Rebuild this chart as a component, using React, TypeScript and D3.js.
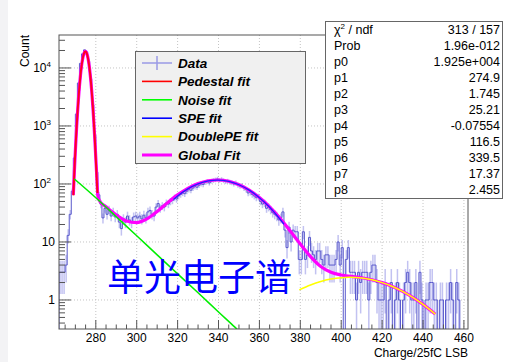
import React, { useRef, useEffect } from 'react';
import * as d3 from 'd3';

// histogram, 1 LSB bins starting at 262
const binLow = 262;
const counts = [
  3, 3, 3, 4, 13, 30, 75, 280,
  1600, 5500, 12000, 17500, 20500, 19000, 13000, 6500, 2300, 700,
  160, 65, 45, 26, 38, 30, 36, 28, 33, 27,
  30, 22, 17, 25, 22, 28, 24, 22, 27, 28,
  26, 28, 25, 29, 26, 33, 35, 30, 28, 40,
  46, 38, 42, 40, 47, 45, 50, 52, 58, 55,
  62, 66, 70, 68, 75, 80, 78, 85, 90, 88,
  95, 100, 98, 106, 110, 104, 112, 115, 118, 122,
  116, 120, 114, 110, 112, 108, 105, 100, 104, 96,
  92, 94, 85, 80, 70, 72, 66, 62, 58, 60,
  50, 45, 47, 38, 40, 36, 32, 30, 28, 24,
  26, 33, 16, 8, 18, 10, 16, 15, 15, 5,
  5, 15, 5, 6, 12, 7, 6, 5, 7, 7,
  5, 4, 6, 6, 4, 4, 4, 5, 10, 4,
  8, 0, 5, 8, 3, 3, 3, 1, 3, 2,
  3, 3, 3, 1, 3, 4, 4, 2, 1, 1,
  1, 2, 0, 1, 2, 0, 1, 2, 1, 0,
  1, 2, 3, 2, 1, 1, 2, 0, 3, 1,
  0, 1, 1, 2, 2, 1, 1, 0, 1, 1,
  0, 1, 1, 2, 1, 0, 2, 1, 0,
];

// fit curves: [charge, count]
const pedestalFit: [number, number][] = [
  [269, 63.5], [269.5, 160], [270, 373], [270.5, 801], [271, 1584], [271.5, 2884],
  [272, 4840], [272.5, 7477], [273, 10640], [273.5, 13950], [274, 16850], [274.5, 18750],
  [274.9, 19250], [275.5, 18140], [276, 15780], [276.5, 12640], [277, 9333], [277.5, 6345],
  [278, 3973], [278.5, 2293], [279, 1218], [279.5, 597], [280, 269], [280.5, 112], [280.8, 70],
];
const noiseFit: [number, number][] = [
  [269.5, 122], [280, 57.9], [290, 27.2], [300, 12.8], [310, 6.0], [320, 2.82],
  [330, 1.33], [340, 0.62], [348, 0.34], [352, 0.25],
];
const speFit: [number, number][] = [
  [318, 54.2], [320, 62], [325, 82.2], [330, 100.3], [335, 112.7], [339.5, 116.5],
  [345, 110.8], [350, 97], [355, 78.2], [360, 58.1], [365, 39.7], [370, 24.9], [372, 20.2],
];
const doublePeFit: [number, number][] = [
  [379.5, 1.49], [385, 1.81], [390, 2.08], [395, 2.29], [400, 2.42], [404.1, 2.455],
  [410, 2.39], [415, 2.23], [420, 1.99], [425, 1.71], [430, 1.41], [435, 1.11],
  [440, 0.84], [446, 0.57],
];
const globalFit: [number, number][] = [
  [269, 65], [269.5, 160], [270, 373], [270.5, 801], [271, 1584], [271.5, 2884],
  [272, 4840], [272.5, 7477], [273, 10640], [273.5, 13950], [274, 16850], [274.5, 18750],
  [274.9, 19250], [275.5, 18140], [276, 15780], [276.5, 12640], [277, 9333], [277.5, 6345],
  [278, 3973], [278.5, 2293], [279, 1218], [279.5, 600], [280, 280], [280.5, 130], [281, 62],
  [282, 50], [285, 40.5], [290, 29.2], [295, 23], [300, 21.6], [305, 25], [310, 33.5],
  [315, 47.2], [320, 64.8], [325, 84.1], [330, 101.6], [335, 113.6], [339.5, 117.1],
  [345, 111.2], [350, 97.3], [355, 78.4], [360, 58.3], [365, 40.4], [370, 25.9],
  [375, 15.6], [380, 9.2], [385, 5.6], [390, 3.78], [395, 3.0], [400, 2.69], [405, 2.55],
  [410, 2.42], [415, 2.23], [420, 1.99], [425, 1.71], [430, 1.41], [435, 1.11],
  [440, 0.84], [446, 0.57],
];

const xTicks = [280, 300, 320, 340, 360, 380, 400, 420, 440, 460];
const yDecades = [1, 10, 100, 1000, 10000];
const yDecadeExp = ['', '', '2', '3', '4'];

const legendNames = ['Data', 'Pedestal fit', 'Noise fit', 'SPE fit', 'DoublePE fit', 'Global Fit'];
const legendColors = ['#9a9ae6', '#ff0000', '#00ff00', '#0000ff', '#ffff00', '#ff00ff'];

const statLabels = ['χ2 / ndf', 'Prob', 'p0', 'p1', 'p2', 'p3', 'p4', 'p5', 'p6', 'p7', 'p8'];
const statValues = ['313 / 157', '1.96e-012', '1.925e+004', '274.9', '1.745', '25.21',
  '-0.07554', '116.5', '339.5', '17.37', '2.455'];

const FONT = '"Liberation Sans", Arial, Helvetica, sans-serif';

const SpectrumChart: React.FC = () => {
  const svgRef = useRef<SVGSVGElement>(null);
  const width = 505;
  const height = 362;

  useEffect(() => {
    if (!svgRef.current) return;
    const svg = d3.select(svgRef.current);
    svg.selectAll('*').remove();

    const frame = { left: 59, right: 468, top: 35, bottom: 329 };

    const x = d3.scaleLinear().domain([262, 462]).range([frame.left, frame.right]);
    const y = d3.scaleLog().domain([0.316, 37000]).range([frame.bottom, frame.top]);

    svg.append('rect').attr('width', width).attr('height', height).attr('fill', '#fff');
    svg.append('rect').attr('width', 8).attr('height', height).attr('fill', '#f3f3f5');

    svg.append('defs').append('clipPath').attr('id', 'plotclip')
      .append('rect')
      .attr('x', frame.left).attr('y', frame.top)
      .attr('width', frame.right - frame.left).attr('height', frame.bottom - frame.top);

    // grid
    const grid = svg.append('g').attr('stroke', '#c4c4c4').attr('stroke-dasharray', '1,2');
    xTicks.forEach(t => {
      grid.append('line').attr('x1', x(t)).attr('x2', x(t))
        .attr('y1', frame.top).attr('y2', frame.bottom);
    });
    yDecades.forEach(t => {
      grid.append('line').attr('x1', frame.left).attr('x2', frame.right)
        .attr('y1', y(t)).attr('y2', y(t));
    });

    const plot = svg.append('g').attr('clip-path', 'url(#plotclip)');

    // error bars
    counts.forEach((v, i) => {
      if (v <= 0) return;
      const e = Math.sqrt(v);
      const lo = v - e > 0 ? y(v - e) : frame.bottom;
      plot.append('line')
        .attr('x1', x(binLow + i + 0.5)).attr('x2', x(binLow + i + 0.5))
        .attr('y1', lo).attr('y2', y(v + e))
        .attr('stroke', 'rgba(120,120,225,0.45)').attr('stroke-width', 1.5);
    });

    // step histogram
    let d = `M${x(binLow)},${frame.bottom}`;
    counts.forEach((v, i) => {
      const yv = v > 0 ? y(v) : frame.bottom + 2;
      d += `L${x(binLow + i)},${yv}L${x(binLow + i + 1)},${yv}`;
    });
    plot.append('path').attr('d', d).attr('fill', 'none')
      .attr('stroke', '#5a5acc').attr('stroke-width', 1);

    const line = d3.line<[number, number]>()
      .x(p => x(p[0])).y(p => y(p[1]))
      .curve(d3.curveMonotoneX);

    const drawCurve = (pts: [number, number][], color: string, w: number) => {
      plot.append('path').datum(pts).attr('d', line).attr('fill', 'none')
        .attr('stroke', color).attr('stroke-width', w).attr('stroke-linejoin', 'round');
    };

    drawCurve(globalFit, '#ff00ff', 3.2);
    drawCurve(pedestalFit, '#ff0022', 2);
    drawCurve(noiseFit, '#00ee00', 1.5);
    drawCurve(speFit, '#2020ff', 1.3);
    drawCurve(doublePeFit, '#ffff00', 1.5);

    // frame
    svg.append('rect')
      .attr('x', frame.left).attr('y', frame.top)
      .attr('width', frame.right - frame.left).attr('height', frame.bottom - frame.top)
      .attr('fill', 'none').attr('stroke', '#555').attr('stroke-width', 1);

    // x ticks (inside)
    const ticks = svg.append('g').attr('stroke', '#555').attr('stroke-width', 1);
    for (let t = 265; t <= 460; t += 5) {
      const major = t % 20 === 0;
      ticks.append('line').attr('x1', x(t)).attr('x2', x(t))
        .attr('y1', frame.bottom).attr('y2', frame.bottom - (major ? 9 : 4.5));
    }
    // y ticks (inside)
    [0.1, 1, 10, 100, 1000, 10000].forEach(dec => {
      for (let k = 1; k <= 9; k++) {
        const v = dec * k;
        if (v < 0.316 || v > 37000) continue;
        ticks.append('line').attr('x1', frame.left).attr('x2', frame.left + (k === 1 ? 12 : 6))
          .attr('y1', y(v)).attr('y2', y(v));
      }
    });

    const txt = svg.append('g').attr('font-family', FONT).attr('fill', '#000');

    xTicks.forEach(t => {
      txt.append('text').attr('x', x(t)).attr('y', 342)
        .attr('text-anchor', 'middle').attr('font-size', 12).text(t);
    });
    yDecades.forEach((t, i) => {
      const el = txt.append('text').attr('y', y(t) + 4.5).attr('font-size', 12);
      if (yDecadeExp[i]) {
        el.attr('x', 51).attr('text-anchor', 'end');
        el.append('tspan').text('10');
        el.append('tspan').attr('font-size', 8).attr('dy', -5).text(yDecadeExp[i]);
      } else {
        el.attr('x', 55).attr('text-anchor', 'end').text(t);
      }
    });

    txt.append('text').attr('transform', 'translate(29,35) rotate(-90)')
      .attr('text-anchor', 'end').attr('font-size', 12).text('Count');
    txt.append('text').attr('x', 468).attr('y', 357)
      .attr('text-anchor', 'end').attr('font-size', 12).text('Charge/25fC LSB');

    // legend
    const lg = svg.append('g');
    lg.append('rect').attr('x', 135.5).attr('y', 51.5).attr('width', 170).attr('height', 112)
      .attr('fill', '#f0f0f0').attr('stroke', '#666').attr('stroke-width', 1);
    legendNames.forEach((name, i) => {
      const ly = 63 + i * 18.4;
      lg.append('line').attr('x1', 142).attr('x2', 172).attr('y1', ly).attr('y2', ly)
        .attr('stroke', legendColors[i]).attr('stroke-width', i === 5 ? 3 : i === 0 ? 1.5 : 1.6);
      if (i === 0) {
        lg.append('line').attr('x1', 157).attr('x2', 157).attr('y1', ly - 7).attr('y2', ly + 7)
          .attr('stroke', legendColors[i]).attr('stroke-width', 1.5);
      }
      lg.append('text').attr('x', 178).attr('y', ly + 4.8)
        .attr('font-family', FONT).attr('font-size', 13.5)
        .attr('font-style', 'italic').attr('font-weight', 'bold').text(name);
    });

    // stats box
    const st = svg.append('g').attr('font-family', FONT).attr('font-size', 12.5);
    st.append('rect').attr('x', 325.5).attr('y', 21.5).attr('width', 177).attr('height', 177)
      .attr('fill', '#fff').attr('stroke', '#666').attr('stroke-width', 1);
    statLabels.forEach((lab, i) => {
      const by = 34 + i * 16;
      const t = st.append('text').attr('x', 334).attr('y', by);
      if (i === 0) {
        t.append('tspan').text('χ');
        t.append('tspan').attr('font-size', 8).attr('dy', -5).text('2');
        t.append('tspan').attr('dy', 5).text(' / ndf');
      } else {
        t.text(lab);
      }
      st.append('text').attr('x', 500).attr('y', by).attr('text-anchor', 'end').text(statValues[i]);
    });

    // annotation
    svg.append('text').attr('x', 107).attr('y', 291)
      .attr('font-family', '"Noto Sans CJK SC", sans-serif').attr('font-size', 37)
      .attr('fill', '#0000ff').text('单光电子谱');
  }, []);

  return (
    <svg
      ref={svgRef}
      width={width}
      height={height}
      style={{ position: 'absolute', left: 0, top: 0 }}
    />
  );
};

export default function App() {
  return <SpectrumChart />;
}
